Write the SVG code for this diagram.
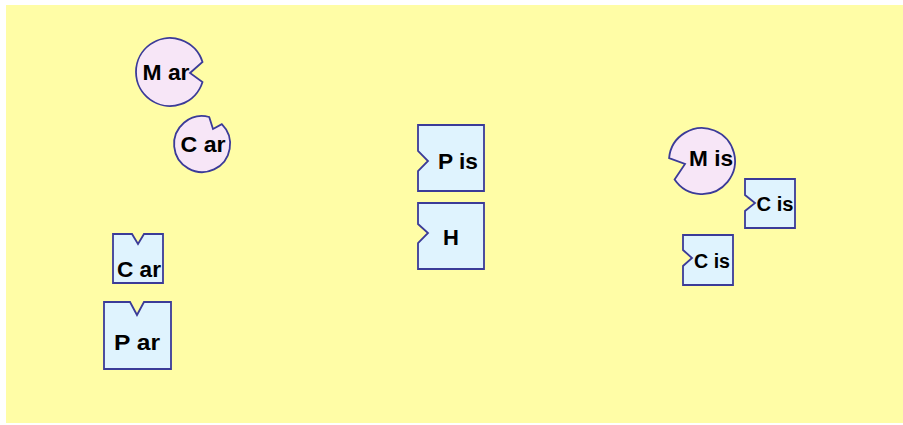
<svg xmlns="http://www.w3.org/2000/svg" width="903" height="425" viewBox="0 0 903 425">
<style>
.circ{fill:#F7E6F7;stroke:#3B3B98;stroke-width:1.8}
.box{fill:#DFF3FE;stroke:#3B3B98;stroke-width:1.8}
.lbl{font-family:"Liberation Sans",Arial,sans-serif;font-weight:bold;fill:#000;text-anchor:middle;font-size:22px}
.sm{font-size:20px}
</style>
<rect x="0" y="0" width="903" height="425" fill="#FFFFFF"/>
<rect x="6" y="5" width="897" height="418" fill="#FFFDA6"/>
<g id="connectors"/>
<g id="m-ar">
<path class="circ" d="M202.5,62 A34,34 0 1 0 202.5,82 L190,73 Z"/>
<text class="lbl" x="166" y="80" textLength="47" lengthAdjust="spacingAndGlyphs">M ar</text>
</g>
<g id="c-ar-circle">
<path class="circ" d="M221.8,124.2 A28,28 0 1 1 209.2,117 L213,129 Z"/>
<text class="lbl" x="203" y="152" textLength="45" lengthAdjust="spacingAndGlyphs">C ar</text>
</g>
<g id="c-ar-box">
<path class="box" d="M113,234 H132 L138,244 L144,234 H163 V283 H113 Z"/>
<text class="lbl" x="139" y="277" textLength="44" lengthAdjust="spacingAndGlyphs">C ar</text>
</g>
<g id="p-ar">
<path class="box" d="M104,302 H130 L137,315 L144,302 H171 V369 H104 Z"/>
<text class="lbl" x="137" y="350" textLength="46" lengthAdjust="spacingAndGlyphs">P ar</text>
</g>
<g id="p-is">
<path class="box" d="M418,125 H484 V191 H418 V171 L428,161 L418,151 Z"/>
<text class="lbl" x="458" y="169" textLength="40" lengthAdjust="spacingAndGlyphs">P is</text>
</g>
<g id="h">
<path class="box" d="M418,203 H484 V269 H418 V243 L428,233 L418,224 Z"/>
<text class="lbl" x="451" y="245">H</text>
</g>
<g id="m-is">
<path class="circ" d="M669.1,158.1 A33,33 0 1 1 674.6,179.5 L685,164 Z"/>
<text class="lbl" x="711" y="166" textLength="44" lengthAdjust="spacingAndGlyphs">M is</text>
</g>
<g id="c-is-right">
<path class="box" d="M745,179 H795 V228 H745 V211 L755,203 L745,195 Z"/>
<text class="lbl sm" x="775" y="211" textLength="37" lengthAdjust="spacingAndGlyphs">C is</text>
</g>
<g id="c-is-lower">
<path class="box" d="M683,235 H733 V285 H683 V266 L692,258 L683,250 Z"/>
<text class="lbl sm" x="712" y="268" textLength="36" lengthAdjust="spacingAndGlyphs">C is</text>
</g>
</svg>
